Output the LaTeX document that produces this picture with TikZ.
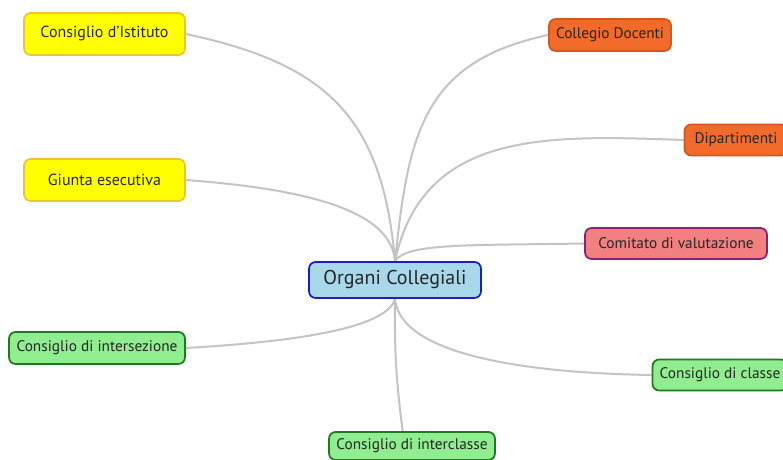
\documentclass[tikz,border=0pt]{standalone}
\usepackage{fontspec}
\setmainfont{PT Sans}
\usetikzlibrary{positioning,backgrounds}

\definecolor{giallo}{HTML}{FFFF00}
\definecolor{giallobordo}{HTML}{EBC42E}
\definecolor{arancio}{HTML}{F26B2A}
\definecolor{aranciobordo}{HTML}{D4571C}
\definecolor{rosa}{HTML}{F28080}
\definecolor{rosabordo}{HTML}{8A1F74}
\definecolor{azzurro}{HTML}{A8D8EA}
\definecolor{azzurrobordo}{HTML}{1C1CC8}
\definecolor{verde}{HTML}{90EE90}
\definecolor{verdebordo}{HTML}{1E7A1E}
\definecolor{ramogrigio}{HTML}{C4C4C4}

\begin{document}
\begin{tikzpicture}[x=0.75pt,y=0.75pt,
    box/.style={rectangle, rounded corners=5pt, draw, line width=1.3pt, inner sep=0pt,
      font=\fontsize{11.5}{13}\selectfont, text=black!85},
    giallobox/.style={box, fill=giallo, draw=giallobordo, minimum width=120.75pt, minimum height=31.5pt,
      font=\fontsize{12}{14}\selectfont},
    aranciobox/.style={box, fill=arancio, draw=aranciobordo},
    verdebox/.style={box, fill=verde, draw=verdebordo},
    ramo/.style={draw=ramogrigio, line width=1.5pt}]
    \clip (0,0) rectangle (783,460);

    % nodi
    \node (organi) [box, fill=azzurro, draw=azzurrobordo, minimum width=129pt, minimum height=27pt,
      font=\fontsize{15}{17}\selectfont] at (395,180) {Organi Collegiali};
    \node (istituto) [giallobox] at (104.5,426) {Consiglio d'Istituto};
    \node (giunta) [giallobox] at (104.5,280) {Giunta esecutiva};
    \node (collegio) [aranciobox, minimum width=91.5pt, minimum height=24pt] at (610,425) {Collegio Docenti};
    \node (dipartimenti) [aranciobox, minimum width=77.25pt, minimum height=23.25pt] at (736,320) {Dipartimenti};
    \node (comitato) [box, fill=rosa, draw=rosabordo, minimum width=136.5pt, minimum height=23.25pt] at (676,216.5) {Comitato di valutazione};
    \node (intersezione) [verdebox, minimum width=132pt, minimum height=24pt] at (97,112) {Consiglio di intersezione};
    \node (classe) [verdebox, minimum width=101.25pt, minimum height=23.25pt] at (720,85) {Consiglio di classe};
    \node (interclasse) [verdebox, minimum width=124.5pt, minimum height=21pt] at (412,14) {Consiglio di interclasse};

    % rami
    \begin{scope}[on background layer]
    \fill[white] (0,0) rectangle (783,460);
    \draw [ramo] (organi.north) to[out=95, in=-12, looseness=1.2] (istituto.east);
    \draw [ramo] (organi.north) .. controls +(-4,55) and +(105,-8) .. (giunta.east);
    \draw [ramo] (organi.north) to[out=84, in=192, looseness=1.2] (collegio.west);
    \draw [ramo] (organi.north) to[out=78, in=178, looseness=1.1] (dipartimenti.west);
    \draw [ramo] (organi.north) .. controls +(12,18) and +(-120,-2) .. (comitato.west);
    \draw [ramo] (organi.south) .. controls +(-8,-30) and +(105,6) .. (intersezione.east);
    \draw [ramo] (organi.south) .. controls +(5,-55) and +(-130,2) .. (classe.west);
    \draw [ramo] (organi.south) to[bend right=4] ([xshift=-7pt]interclasse.north);
    \end{scope}
\end{tikzpicture}
\end{document}
